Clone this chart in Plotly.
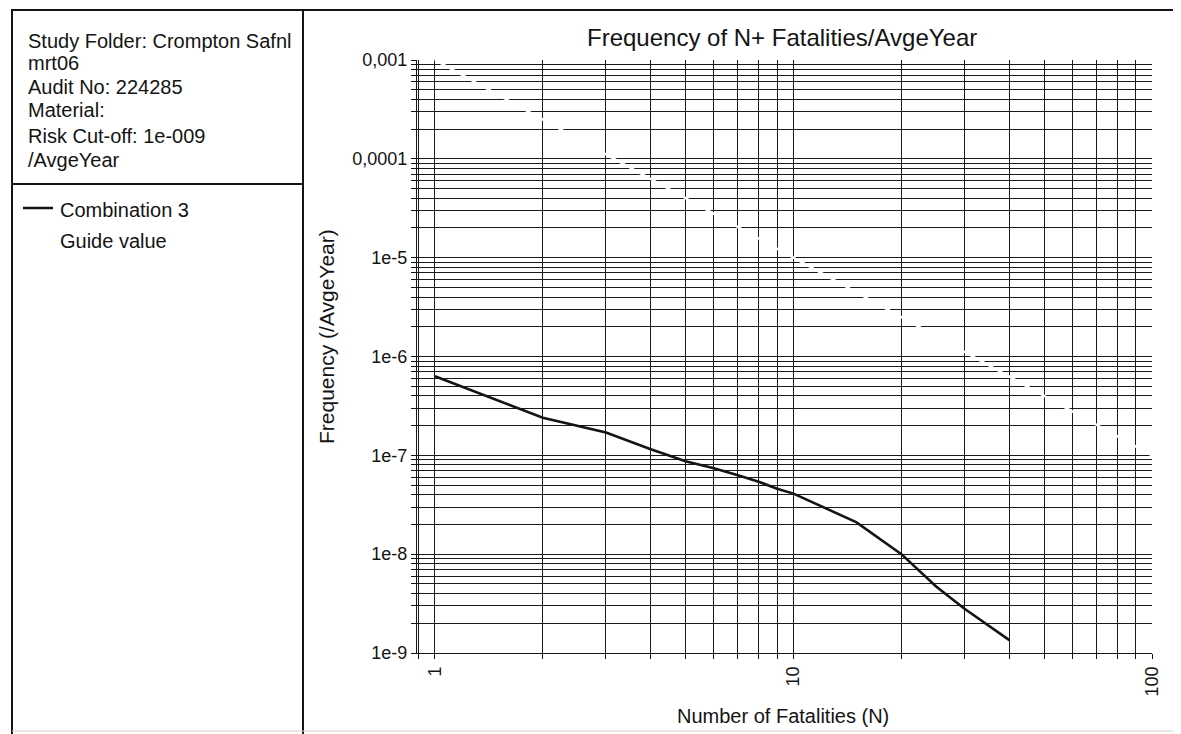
import plotly.graph_objects as go

# ---- data ----
comb_n = [1, 2, 3, 4, 5, 6, 7, 8, 9, 10, 15, 20, 25, 30, 40]
comb_f = [6.3e-7, 2.4e-7, 1.7e-7, 1.15e-7, 8.7e-8, 7.4e-8, 6.3e-8, 5.4e-8,
          4.6e-8, 4.1e-8, 2.1e-8, 1.0e-8, 4.7e-9, 2.8e-9, 1.35e-9]
guide_n = [1, 10, 100]
guide_f = [1e-3, 1e-5, 1e-7]

y_tickvals = [1e-3, 1e-4, 1e-5, 1e-6, 1e-7, 1e-8, 1e-9]
y_ticktext = ["0,001", "0,0001", "1e-5", "1e-6", "1e-7", "1e-8", "1e-9"]
x_tickvals = [1, 10, 100]
x_ticktext = ["1", "10", "100"]

info_lines = ["Study Folder: Crompton Safnl", "mrt06", "Audit No: 224285",
              "Material:", "Risk Cut-off: 1e-009", "/AvgeYear"]
title_text = "Frequency of N+ Fatalities/AvgeYear"
x_title = "Number of Fatalities (N)"
y_title = "Frequency (/AvgeYear)"

# ---- layout geometry (page pixels; page body has an 8px margin) ----
OFF = 8
W, H = 1181 - OFF, 734 - OFF
L0, R0, T0, B0 = 417, 1152, 60, 653   # plot area in page pixels
L, T = L0 - OFF, T0 - OFF
R = W - (R0 - OFF)
B = H - (B0 - OFF)
PW, PH = W - L - R, H - T - B


def px(x):
    return (x - OFF - L) / PW


def py(y):
    return (H - B - (y - OFF)) / PH


FONT = "Liberation Sans, Arial, sans-serif"
INK = "#141414"
GRID = "#1a1a1a"

fig = go.Figure()
fig.add_trace(go.Scatter(x=guide_n, y=guide_f, mode="lines", name="Guide value",
                         line=dict(color="white", width=2.4), showlegend=False))
fig.add_trace(go.Scatter(x=comb_n, y=comb_f, mode="lines", name="Combination 3",
                         line=dict(color=INK, width=2.6), showlegend=False))

common = dict(type="log", ticks="outside", ticklen=5, tickcolor=INK,
              showgrid=True, gridcolor=GRID, gridwidth=1.4,
              showline=True, linecolor=INK, linewidth=1.4, zeroline=False,
              minor=dict(dtick="D1", showgrid=True, gridcolor=GRID, gridwidth=1.3,
                         ticks="outside", ticklen=5, tickcolor=INK),
              tickfont=dict(family=FONT, size=18, color=INK))
fig.update_xaxes(range=[-0.05, 2], tickvals=x_tickvals, ticktext=x_ticktext,
                 tickangle=-90, **common)
fig.update_yaxes(range=[-9, -3], tickvals=y_tickvals, ticktext=y_ticktext, **common)

shapes = []
box = dict(type="rect", xref="paper", yref="paper", line=dict(color=INK, width=2),
           fillcolor="rgba(0,0,0,0)", layer="above")
shapes.append(dict(box, x0=px(12), x1=px(303), y0=py(10), y1=py(745)))
shapes.append(dict(box, x0=px(303), x1=px(1176), y0=py(10), y1=py(745)))
shapes.append(dict(type="line", xref="paper", yref="paper", x0=px(12), x1=px(303),
                   y0=py(184), y1=py(184), line=dict(color=INK, width=2)))
# faint bottom edge
shapes.append(dict(type="line", xref="paper", yref="paper", x0=px(12), x1=px(1176),
                   y0=py(731), y1=py(731), line=dict(color="#d0d0d0", width=1)))
# legend sample line
shapes.append(dict(type="line", xref="paper", yref="paper", x0=px(23), x1=px(53),
                   y0=py(208), y1=py(208), line=dict(color=INK, width=2.5)))

ann = []
centers = [41, 63, 87, 110, 136, 160]
for txt, cy in zip(info_lines, centers):
    ann.append(dict(text=txt, x=px(26), y=py(cy), xref="paper", yref="paper",
                    xanchor="left", yanchor="middle", showarrow=False,
                    font=dict(family=FONT, size=20, color=INK)))
ann.append(dict(text="Combination 3", x=px(58), y=py(210), xref="paper", yref="paper",
                xanchor="left", yanchor="middle", showarrow=False,
                font=dict(family=FONT, size=20, color=INK)))
ann.append(dict(text="Guide value", x=px(58), y=py(241), xref="paper", yref="paper",
                xanchor="left", yanchor="middle", showarrow=False,
                font=dict(family=FONT, size=20, color=INK)))
ann.append(dict(text=title_text, x=px(782), y=py(37), xref="paper", yref="paper",
                xanchor="center", yanchor="middle", showarrow=False,
                font=dict(family=FONT, size=24, color=INK)))
ann.append(dict(text=x_title, x=px(783), y=py(716), xref="paper", yref="paper",
                xanchor="center", yanchor="middle", showarrow=False,
                font=dict(family=FONT, size=20, color=INK)))
ann.append(dict(text=y_title, x=px(326), y=py(337), xref="paper", yref="paper",
                xanchor="center", yanchor="middle", showarrow=False, textangle=-90,
                font=dict(family=FONT, size=21, color=INK)))

fig.update_layout(width=W, height=H, margin=dict(l=L, r=R, t=T, b=B),
                  paper_bgcolor="white", plot_bgcolor="white",
                  shapes=shapes, annotations=ann, showlegend=False)

fig.write_html("out.html")
